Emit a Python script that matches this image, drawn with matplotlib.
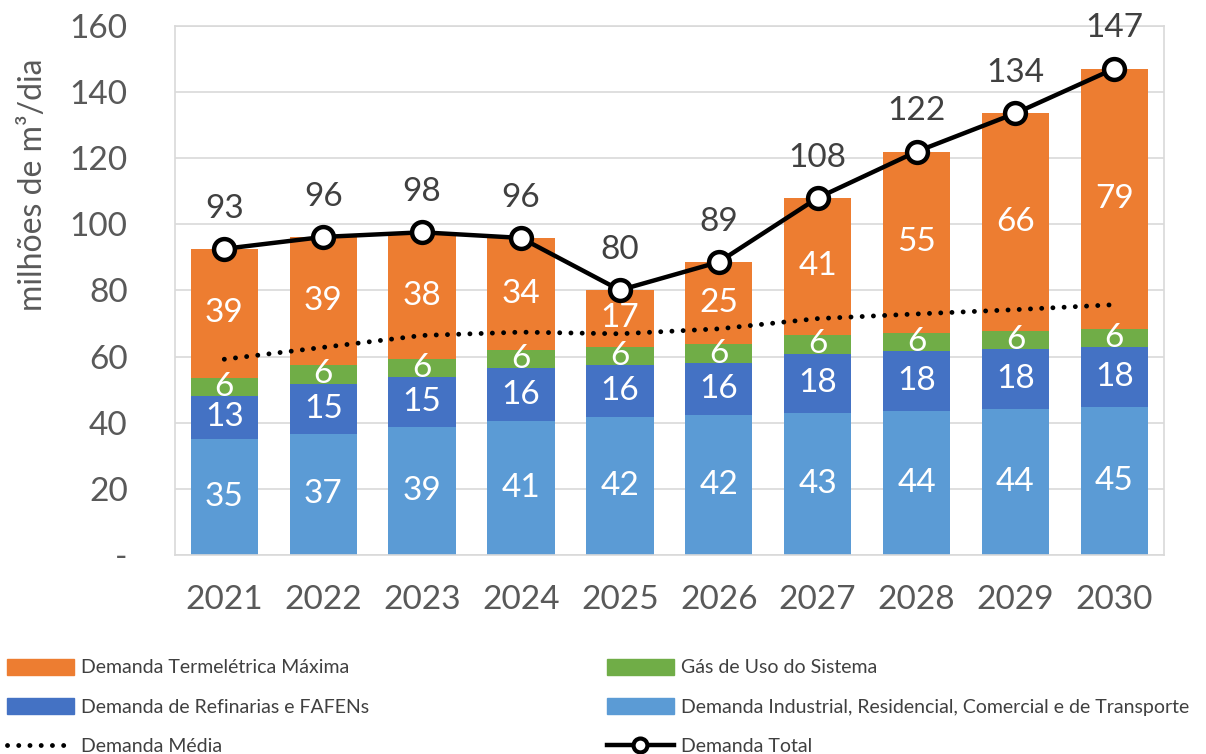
import matplotlib
matplotlib.use("Agg")
import matplotlib.pyplot as plt
import numpy as np
from matplotlib.patches import Patch
from matplotlib.lines import Line2D

plt.rcParams['font.family'] = ['Lato', 'DejaVu Sans']

# Dados (milhões de m³/dia)
anos = ['2021', '2022', '2023', '2024', '2025', '2026', '2027', '2028', '2029', '2030']
industrial = [35.2, 36.7, 38.7, 40.6, 41.6, 42.4, 42.9, 43.6, 44.2, 44.8]
refinarias = [12.8, 15.1, 15.1, 15.8, 15.8, 15.6, 18.0, 18.0, 18.0, 18.0]
gas_sistema = [5.6, 5.6, 5.5, 5.6, 5.6, 5.7, 5.7, 5.6, 5.5, 5.6]
termeletrica = [39.0, 38.8, 38.3, 33.9, 17.1, 24.9, 41.4, 54.8, 65.9, 78.7]
media = [59.2, 62.8, 66.4, 67.4, 66.9, 68.4, 71.5, 72.9, 74.2, 75.7]

cor_industrial = '#5B9BD5'
cor_refinarias = '#4472C4'
cor_gas = '#70AD47'
cor_termo = '#ED7D31'
cinza = '#595959'

x = np.arange(len(anos))
total = np.array(industrial) + np.array(refinarias) + np.array(gas_sistema) + np.array(termeletrica)

fig = plt.figure(figsize=(12.06, 7.54), dpi=100)
ax = fig.add_axes([0.145, 0.264, 0.82, 0.7015])

# Barras empilhadas
base = np.zeros(len(anos))
for valores, cor in [(industrial, cor_industrial), (refinarias, cor_refinarias),
                     (gas_sistema, cor_gas), (termeletrica, cor_termo)]:
    barras = ax.bar(x, valores, bottom=base, width=0.68, color=cor, zorder=2)
    ax.bar_label(barras, labels=[f'{v:.0f}' for v in valores], label_type='center',
                 color='white', fontsize=24)
    base = base + np.array(valores)

# Demanda média (pontilhada)
ax.plot(x, media, color='black', lw=3.5, linestyle=(0, (0.01, 2.3)),
        dash_capstyle='round', zorder=4)

# Demanda total
ax.plot(x, total, color='black', lw=3.2, marker='o', ms=15, mfc='white',
        mec='black', mew=3.2, zorder=5)
for i, t in enumerate(total):
    ax.annotate(f'{t:.0f}', (x[i], t), xytext=(0, 29), textcoords='offset points',
                ha='center', va='center', fontsize=24, color='#404040')

# Eixos
ax.set_xlim(-0.5, len(anos) - 0.5)
ax.set_ylim(0, 160)
ax.set_yticks(np.arange(0, 161, 20))
ax.set_yticklabels(['-'] + [str(v) for v in range(20, 161, 20)])
ax.set_xticks(x)
ax.set_xticklabels(anos)
ax.tick_params(axis='y', length=0, pad=34, labelsize=24, labelcolor=cinza)
ax.tick_params(axis='x', length=0, pad=22, labelsize=24, labelcolor=cinza)
ax.grid(axis='y', color='#D9D9D9', lw=1.2, zorder=0)
ax.set_axisbelow(True)
for s in ax.spines.values():
    s.set_color('#D9D9D9')
    s.set_linewidth(1.2)

ax.set_ylabel('milhões de m³/dia', fontsize=23, color=cinza)
ax.yaxis.set_label_coords(-0.128, 0.70)

# Legenda em duas colunas
h_termo = Patch(color=cor_termo)
h_ref = Patch(color=cor_refinarias)
h_media = Line2D([], [], color='black', lw=3.5, linestyle=(0, (0.01, 2.3)), dash_capstyle='round')
h_gas = Patch(color=cor_gas)
h_ind = Patch(color=cor_industrial)
h_total = Line2D([], [], color='black', lw=3.2, marker='o', ms=10, mfc='white', mec='black', mew=3)

opts = dict(loc='upper left', frameon=False, fontsize=14, handlelength=3.45,
            handleheight=0.85, handletextpad=0.36, labelspacing=1.12,
            borderaxespad=0, borderpad=0, labelcolor='#404040')
fig.legend([h_termo, h_ref, h_media],
           ['Demanda Termelétrica Máxima', 'Demanda de Refinarias e FAFENs', 'Demanda Média'],
           bbox_to_anchor=(0.006, 0.126), **opts)
fig.legend([h_gas, h_ind, h_total],
           ['Gás de Uso do Sistema', 'Demanda Industrial, Residencial, Comercial e de Transporte',
            'Demanda Total'],
           bbox_to_anchor=(0.503, 0.126), **opts)

fig.savefig('out.png', dpi=100)
